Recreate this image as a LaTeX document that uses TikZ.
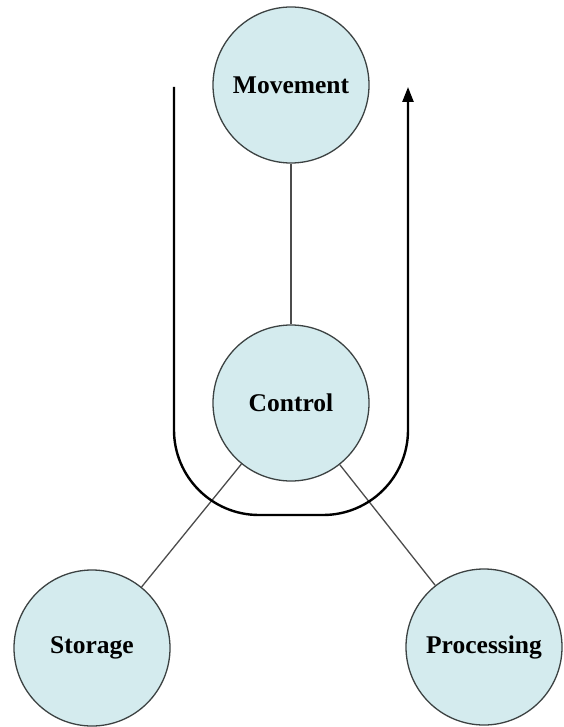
\documentclass[tikz,border=0pt]{standalone}
\usepackage{fontspec}
\setmainfont{Liberation Serif}
\usetikzlibrary{arrows.meta}
\definecolor{bubble}{RGB}{212,235,238}
\definecolor{rim}{RGB}{60,66,66}
\begin{document}
\begin{tikzpicture}[x=1pt,y=-1pt,
  unit/.style={circle, draw=rim, line width=1.3pt, fill=bubble,
    minimum size=156pt, inner sep=0pt,
    font=\fontsize{25.5}{28}\selectfont\bfseries, text=black},
  link/.style={draw=black!70, line width=1.3pt},
  loop/.style={draw=black, line width=2.4pt, rounded corners=85pt}]
  \useasboundingbox (0,0) rectangle (563,727);
  % functional units
  \node[unit] (mov) at (291,85) {Movement};
  \node[unit] (ctl) at (291,403) {Control};
  \node[unit] (sto) at (92,648) {Storage};
  \node[unit] (pro) at (484,647) {Processing};
  % links between control and the other units
  \draw[link] (ctl) -- (mov);
  \draw[link] (ctl) -- (sto);
  \draw[link] (ctl) -- (pro);
  % flow path round the control unit
  \coordinate (ul) at (174,87);
  \coordinate (ur) at (408,87);
  \draw[loop, -{Triangle[length=15pt,width=11pt]}]
    (ul) -- (174,515) -- (408,515) -- (ur);
\end{tikzpicture}
\end{document}
